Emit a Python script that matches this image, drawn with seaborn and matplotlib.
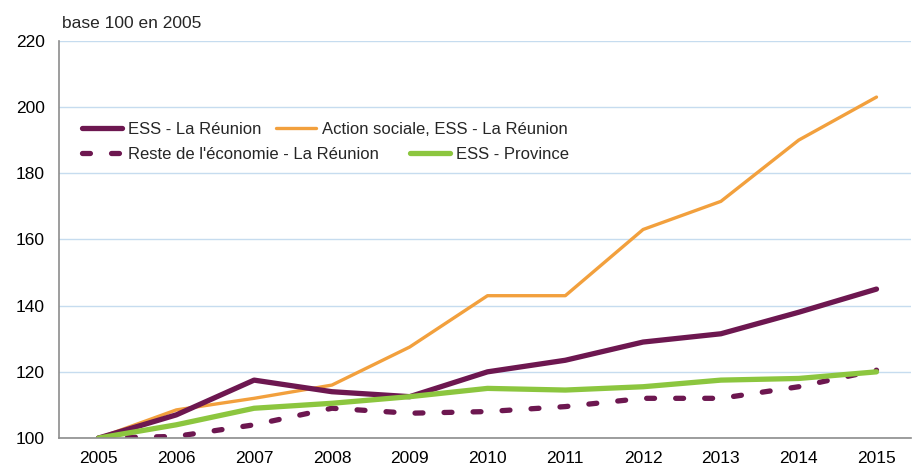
import pandas as pd
import matplotlib.pyplot as plt
import seaborn as sns

years = list(range(2005, 2016))
ess_reunion = [100, 107, 117.5, 114, 112.5, 120, 123.5, 129, 131.5, 138, 145]
action_sociale = [100, 108.5, 112, 116, 127.5, 143, 143, 163, 171.5, 190, 203]
reste_economie = [100, 100.5, 104, 109, 107.5, 108, 109.5, 112, 112, 115.5, 120.5]
ess_province = [100, 104, 109, 110.5, 112.5, 115, 114.5, 115.5, 117.5, 118, 120]

y_ticks = [100, 120, 140, 160, 180, 200, 220]

PURPLE = '#6d1750'
ORANGE = '#f2a03d'
GREEN = '#8cc63f'

sns.set_theme(style='white')
plt.rcParams['font.family'] = ['Liberation Sans', 'DejaVu Sans']

fig = plt.figure(figsize=(9.19, 4.69), dpi=100)
ax = fig.add_axes([0.064, 0.066, 0.927, 0.847])

# draw order: orange first, then purple, green on top
sns.lineplot(x=years, y=action_sociale, ax=ax, color=ORANGE, lw=2.4,
             label='Action sociale, ESS - La Réunion')
sns.lineplot(x=years, y=reste_economie, ax=ax, color=PURPLE, lw=3.8,
             label="Reste de l'économie - La Réunion")
sns.lineplot(x=years, y=ess_reunion, ax=ax, color=PURPLE, lw=3.8,
             label='ESS - La Réunion')
sns.lineplot(x=years, y=ess_province, ax=ax, color=GREEN, lw=3.8,
             label='ESS - Province')

lines = ax.get_lines()
lines[1].set_dashes((1.5, 4.0))
lines[1].set_dash_capstyle('round')
for ln in lines:
    ln.set_solid_capstyle('round')

ax.set_xlim(2004.49, 2015.44)
ax.set_ylim(100, 220)
ax.set_yticks(y_ticks)
ax.set_xticks(years)
ax.tick_params(axis='x', length=0, labelsize=12.5, colors='black', pad=9)
ax.tick_params(axis='y', length=0, labelsize=12.5, colors='black', pad=10)
ax.yaxis.grid(True, color='#c6dcef', lw=1)
ax.xaxis.grid(False)
for s in ['top', 'right']:
    ax.spines[s].set_visible(False)
for s in ['left', 'bottom']:
    ax.spines[s].set_color('#8c8c8c')
    ax.spines[s].set_linewidth(1.2)
ax.set_xlabel('')
ax.set_ylabel('')

# two legend rows, laid out like the original (not a strict grid)
h = {l.get_label(): l for l in lines}
kw = dict(ncol=2, frameon=False, fontsize=12, loc='upper left',
          handlelength=2.4, handletextpad=0.35, borderaxespad=0, borderpad=0)
row1 = ['ESS - La Réunion', 'Action sociale, ESS - La Réunion']
row2 = ["Reste de l'économie - La Réunion", 'ESS - Province']
leg1 = ax.legend([h[k] for k in row1], row1, bbox_to_anchor=(0.027, 0.795),
                 columnspacing=0.9, **kw)
ax.add_artist(leg1)
ax.legend([h[k] for k in row2], row2, bbox_to_anchor=(0.027, 0.732),
          columnspacing=1.9, **kw)

fig.text(0.068, 0.95, 'base 100 en 2005', fontsize=12.5, ha='left', va='center')

fig.savefig('out.png', dpi=100)
